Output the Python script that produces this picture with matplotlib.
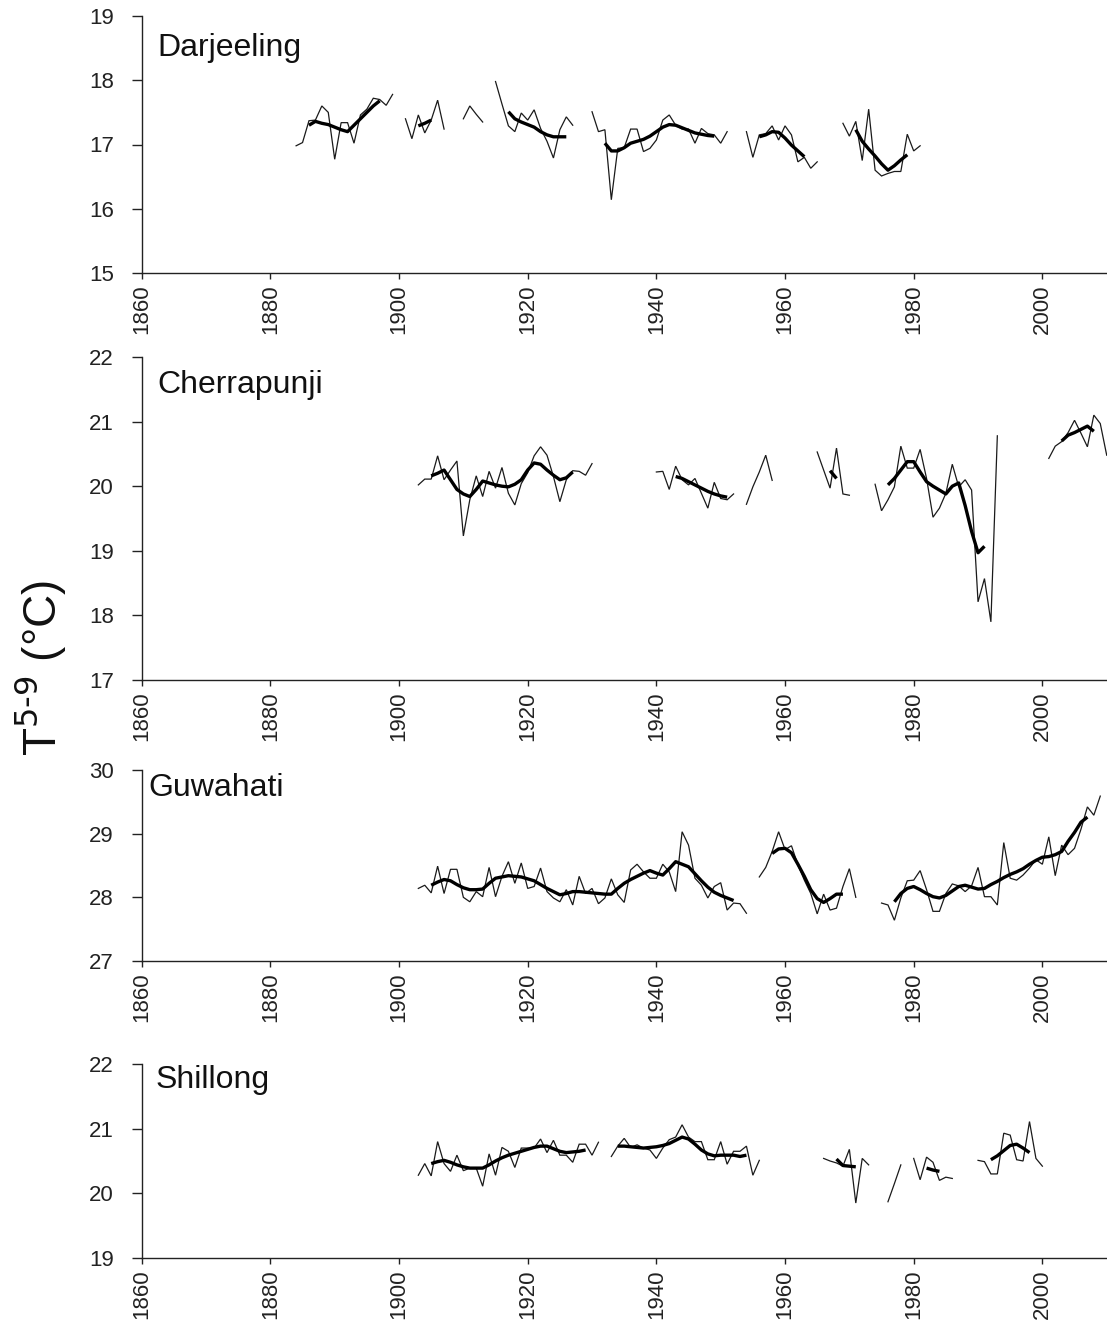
import numpy as np
import matplotlib
matplotlib.use("Agg")
import matplotlib.pyplot as plt

plt.rcParams['font.family'] = ['Liberation Sans', 'DejaVu Sans']

# ---------------- data: (first year, annual values) ----------------
# Darjeeling
darj_raw = [
    (1884, [16.98, 17.03, 17.37, 17.38, 17.60, 17.50, 16.77, 17.34, 17.34, 17.02,
            17.46, 17.55, 17.72, 17.70, 17.61, 17.78]),
    (1901, [17.40, 17.09, 17.46, 17.18, 17.38, 17.69, 17.24]),
    (1910, [17.40, 17.60, 17.47, 17.35]),
    (1915, [17.98, 17.63, 17.29, 17.20, 17.49, 17.38, 17.54, 17.25, 17.05, 16.79,
            17.23, 17.43, 17.30]),
    (1930, [17.51, 17.20, 17.23, 16.14, 16.94, 16.95, 17.24, 17.24, 16.89, 16.94,
            17.07, 17.38, 17.46, 17.30, 17.24, 17.24, 17.02, 17.25, 17.17, 17.15,
            17.02, 17.20]),
    (1954, [17.20, 16.80, 17.15, 17.17, 17.29, 17.07, 17.29, 17.15, 16.73, 16.80,
            16.63, 16.73]),
    (1969, [17.33, 17.13, 17.36, 16.75, 17.55, 16.60, 16.51, 16.55, 16.58, 16.58,
            17.16, 16.90, 16.98]),
]
darj_smooth = [
    (1886, [17.30, 17.36, 17.33, 17.31, 17.27, 17.23, 17.20, 17.30, 17.40, 17.50,
            17.60, 17.68]),
    (1903, [17.29, 17.33, 17.38]),
    (1917, [17.51, 17.40, 17.35, 17.31, 17.27, 17.20, 17.15, 17.12, 17.12, 17.12]),
    (1932, [17.02, 16.90, 16.90, 16.95, 17.02, 17.05, 17.08, 17.13, 17.20, 17.27,
            17.31, 17.30, 17.26, 17.22, 17.18, 17.16, 17.14, 17.13]),
    (1956, [17.12, 17.15, 17.20, 17.19, 17.10, 16.99, 16.90, 16.81]),
    (1971, [17.23, 17.05, 16.93, 16.82, 16.70, 16.60, 16.67, 16.76, 16.84]),
]

# Cherrapunji
cher_raw = [
    (1903, [20.02, 20.11, 20.11, 20.47, 20.10, 20.25, 20.39, 19.23, 19.79, 20.16,
            19.84, 20.23, 19.97, 20.29, 19.89, 19.71, 20.04, 20.21, 20.47, 20.61,
            20.48, 20.15, 19.76, 20.10, 20.24, 20.23, 20.17, 20.35]),
    (1940, [20.22, 20.23, 19.95, 20.31, 20.10, 20.02, 20.12, 19.89, 19.66, 20.06,
            19.81, 19.79, 19.88]),
    (1954, [19.72, 19.99, 20.22, 20.48, 20.09]),
    (1965, [20.53, 20.25, 19.97, 20.59, 19.88, 19.86]),
    (1974, [20.03, 19.62, 19.79, 19.99, 20.62, 20.28, 20.28, 20.57, 20.12, 19.52,
            19.66, 19.89, 20.34, 19.99, 20.10, 19.94, 18.21, 18.57, 17.90, 20.78]),
    (2001, [20.43, 20.62, 20.69, 20.83, 21.02, 20.82, 20.61, 21.10, 20.97, 20.48]),
]
cher_smooth = [
    (1905, [20.16, 20.20, 20.25, 20.10, 19.95, 19.88, 19.84, 19.95, 20.08, 20.05,
            20.02, 20.00, 19.99, 20.03, 20.10, 20.25, 20.36, 20.34, 20.25, 20.17,
            20.10, 20.13, 20.22]),
    (1943, [20.15, 20.12, 20.07, 20.02, 19.97, 19.92, 19.88, 19.85, 19.83]),
    (1967, [20.24, 20.12]),
    (1976, [20.02, 20.12, 20.25, 20.38, 20.38, 20.22, 20.07, 20.00, 19.94, 19.88,
            20.00, 20.05, 19.70, 19.30, 18.97, 19.07]),
    (2003, [20.70, 20.79, 20.83, 20.88, 20.93, 20.85]),
]

# Guwahati
guw_raw = [
    (1903, [28.14, 28.19, 28.07, 28.49, 28.06, 28.44, 28.44, 28.00, 27.93, 28.09,
            28.01, 28.47, 28.01, 28.33, 28.56, 28.22, 28.54, 28.14, 28.17, 28.46,
            28.09, 27.99, 27.93, 28.12, 27.88, 28.33, 28.06, 28.14, 27.90, 27.99,
            28.29, 28.04, 27.92, 28.43, 28.52, 28.40, 28.30, 28.30, 28.52, 28.40,
            28.09, 29.03, 28.82, 28.30, 28.19, 27.99, 28.17, 28.23, 27.80, 27.91,
            27.90, 27.75]),
    (1956, [28.32, 28.47, 28.72, 29.03, 28.75, 28.81, 28.51, 28.27, 28.06, 27.74,
            28.05, 27.80, 27.83, 28.17, 28.45, 28.00]),
    (1975, [27.91, 27.88, 27.64, 27.99, 28.26, 28.27, 28.42, 28.12, 27.78, 27.78,
            28.06, 28.21, 28.18, 28.09, 28.18, 28.47, 28.01, 28.01, 27.88, 28.86,
            28.30, 28.27, 28.35, 28.46, 28.59, 28.52, 28.95, 28.34, 28.82, 28.67,
            28.77, 29.07, 29.42, 29.29, 29.59]),
]
guw_smooth = [
    (1905, [28.19, 28.24, 28.28, 28.26, 28.20, 28.15, 28.12, 28.12, 28.13, 28.22,
            28.30, 28.32, 28.34, 28.33, 28.32, 28.29, 28.26, 28.20, 28.14, 28.09,
            28.04, 28.06, 28.09, 28.09, 28.08, 28.07, 28.06, 28.05, 28.05, 28.14,
            28.22, 28.28, 28.33, 28.38, 28.42, 28.38, 28.35, 28.45, 28.56, 28.52,
            28.48, 28.37, 28.26, 28.16, 28.08, 28.03, 27.99, 27.95]),
    (1958, [28.69, 28.76, 28.77, 28.70, 28.52, 28.33, 28.12, 27.98, 27.92, 27.98,
            28.05, 28.05]),
    (1977, [27.93, 28.06, 28.14, 28.17, 28.12, 28.06, 28.01, 27.99, 28.03, 28.10,
            28.17, 28.19, 28.16, 28.13, 28.14, 28.20, 28.25, 28.31, 28.36, 28.40,
            28.45, 28.52, 28.58, 28.63, 28.64, 28.67, 28.72, 28.88, 29.02, 29.18,
            29.26]),
]

# Shillong
shil_raw = [
    (1903, [20.28, 20.46, 20.27, 20.80, 20.46, 20.34, 20.59, 20.35, 20.39, 20.39,
            20.11, 20.61, 20.28, 20.71, 20.65, 20.40, 20.70, 20.70, 20.70, 20.84,
            20.63, 20.82, 20.59, 20.59, 20.48, 20.76, 20.76, 20.59, 20.79]),
    (1933, [20.57, 20.73, 20.85, 20.71, 20.75, 20.70, 20.67, 20.54, 20.70, 20.83,
            20.87, 21.06, 20.87, 20.80, 20.80, 20.52, 20.52, 20.80, 20.45, 20.65,
            20.65, 20.73, 20.28, 20.51]),
    (1966, [20.54, 20.50, 20.47, 20.42, 20.68, 19.85, 20.54, 20.44]),
    (1976, [19.87, 20.15, 20.44]),
    (1980, [20.54, 20.21, 20.56, 20.48, 20.20, 20.25, 20.23]),
    (1990, [20.51, 20.49, 20.30, 20.30, 20.93, 20.90, 20.52, 20.50, 21.11, 20.54,
            20.42]),
]
shil_smooth = [
    (1905, [20.46, 20.49, 20.51, 20.48, 20.44, 20.41, 20.39, 20.39, 20.39, 20.44,
            20.50, 20.55, 20.59, 20.62, 20.65, 20.68, 20.71, 20.73, 20.73, 20.69,
            20.65, 20.63, 20.64, 20.65, 20.67]),
    (1934, [20.73, 20.73, 20.72, 20.71, 20.70, 20.71, 20.72, 20.74, 20.77, 20.82,
            20.87, 20.84, 20.76, 20.67, 20.61, 20.58, 20.59, 20.59, 20.59, 20.57,
            20.59]),
    (1968, [20.53, 20.43, 20.42, 20.41]),
    (1982, [20.39, 20.36, 20.34]),
    (1992, [20.52, 20.58, 20.66, 20.74, 20.76, 20.70, 20.63]),
]

stations = ["Darjeeling", "Cherrapunji", "Guwahati", "Shillong"]
y_limits = [(15, 19), (17, 22), (27, 30), (19, 22)]
x_ticks = [1860, 1880, 1900, 1920, 1940, 1960, 1980, 2000]
y_label = r"T$^{5\text{-}9}$ (°C)"

# ---------------- layout ----------------
W, H = 1107, 1333
fig = plt.figure(figsize=(W / 100, H / 100), dpi=100)
# (top_px, bottom_px) of each panel's plotting area
panel_px = [(16, 273), (357, 680), (770, 961), (1064, 1258)]
left_px, right_px = 141.7, 1106.7
label_pos = [(0.016, 0.875), (0.016, 0.913), (0.007, 0.905), (0.014, 0.915)]

raws = [darj_raw, cher_raw, guw_raw, shil_raw]
smooths = [darj_smooth, cher_smooth, guw_smooth, shil_smooth]

for i, name in enumerate(stations):
    top, bot = panel_px[i]
    ax = fig.add_axes([left_px / W, 1 - bot / H, (right_px - left_px) / W, (bot - top) / H])
    for start, vals in raws[i]:
        yrs = np.arange(start, start + len(vals))
        ax.plot(yrs, vals, color="#1a1a1a", lw=0.9, solid_joinstyle="miter")
    for start, vals in smooths[i]:
        yrs = np.arange(start, start + len(vals))
        ax.plot(yrs, vals, color="black", lw=2.4, solid_capstyle="butt")
    lo, hi = y_limits[i]
    ax.set_xlim(1860, 2010)
    ax.set_ylim(lo, hi)
    ax.set_yticks(np.arange(lo, hi + 1))
    ax.set_xticks(x_ticks)
    ax.set_xticklabels([str(t) for t in x_ticks], rotation=90)
    ax.spines["top"].set_visible(False)
    ax.spines["right"].set_visible(False)
    for s in ("left", "bottom"):
        ax.spines[s].set_linewidth(1.0)
        ax.spines[s].set_color("#222222")
    ax.tick_params(axis="both", direction="out", width=1.0,
                   labelsize=16, colors="#222222", labelcolor="#222222")
    ax.tick_params(axis="y", length=7, pad=13)
    ax.tick_params(axis="x", length=4, pad=4)
    ax.text(label_pos[i][0], label_pos[i][1], name, transform=ax.transAxes,
            fontsize=23, ha="left", va="center", color="#111111")

fig.text(40 / W, 1 - 668 / H, y_label, rotation=90, fontsize=33,
         ha="center", va="center", color="#111111")

fig.savefig("out.png", dpi=100)
